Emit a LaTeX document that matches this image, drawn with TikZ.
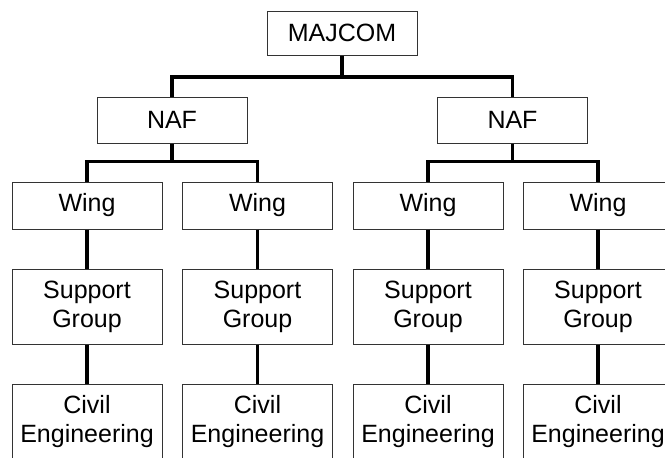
\documentclass[tikz,border=0pt]{standalone}
\usepackage{fontspec}
\setmainfont{Liberation Sans}
\begin{document}
\begin{tikzpicture}[x=1pt,y=-1pt,
  box/.style={draw=black!80, line width=1pt, minimum width=150pt, inner sep=0pt,
              align=center, font=\fontsize{25}{29}\selectfont},
  link/.style={line width=3.5pt, black}]
\useasboundingbox (0,0) rectangle (665,458);
\clip (0,0) rectangle (665,458);

% top levels
\node[box, minimum width=150pt, minimum height=44pt] (maj) at (342,33) {MAJCOM};
\node[box, minimum height=46pt] (nafA) at (172,120) {NAF};
\node[box, minimum height=46pt] (nafB) at (512.5,120) {NAF};

% four columns: wing, support group, civil engineering
\foreach \i/\x in {1/87, 2/257.5, 3/428, 4/598} {
  \node[box, minimum height=47pt] (wing\i) at (\x,205.5) {Wing};
  \node[box, minimum height=75pt] (sup\i) at (\x,306.5) {Support\\Group};
  \node[box, minimum height=75pt] (ce\i) at (\x,421.5) {Civil\\Engineering};
  \draw[link] (wing\i.south) -- (sup\i.north);
  \draw[link] (sup\i.south) -- (ce\i.north);
}

% branch junctions
\coordinate (jtop) at (342,77);
\coordinate (jA) at (172,161.5);
\coordinate (jB) at (512.5,161.5);

\draw[link] (maj.south) -- (jtop);
\draw[link] (nafA.north) |- (jtop) -| (nafB.north);

\draw[link] (nafA.south) -- (jA);
\draw[link] (wing1.north) |- (jA) -| (wing2.north);
\draw[link] (nafB.south) -- (jB);
\draw[link] (wing3.north) |- (jB) -| (wing4.north);
\end{tikzpicture}
\end{document}
